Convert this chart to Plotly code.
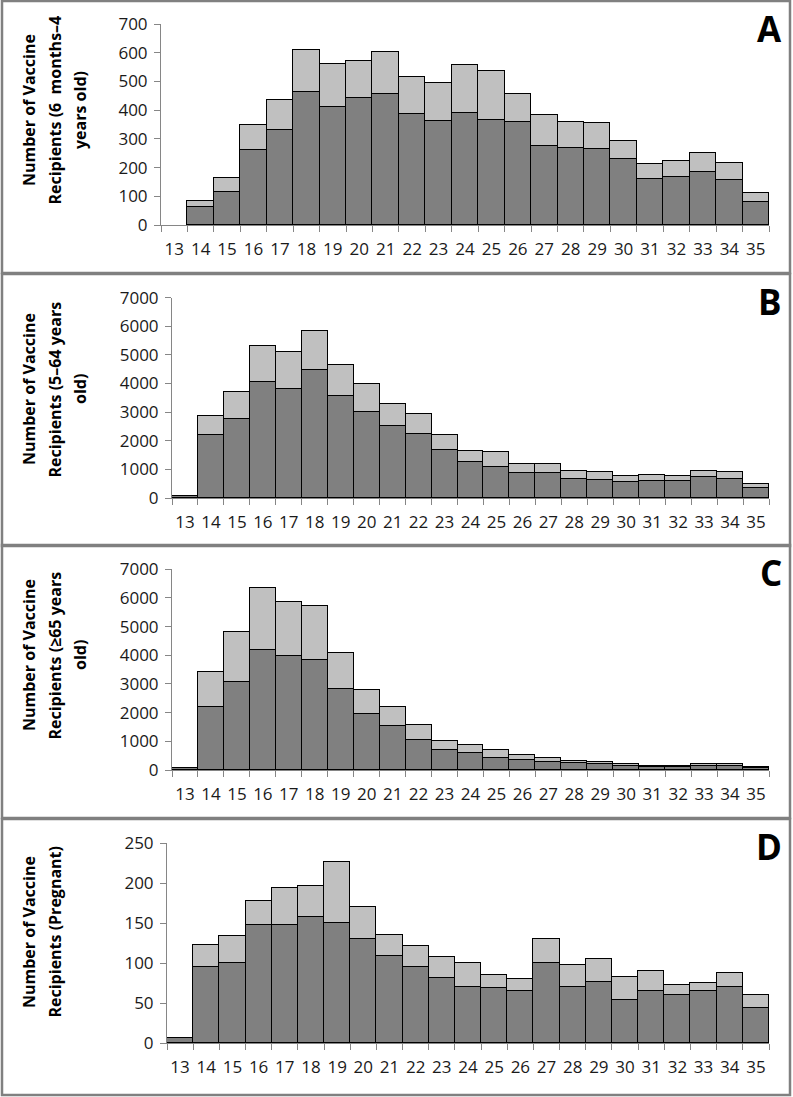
import plotly.graph_objects as go

weeks = [str(w) for w in range(13, 36)]

# Panel A: 6 months - 4 years
a_dark = [0, 63, 115, 261, 331, 462, 411, 442, 456, 387, 362, 390, 365, 357, 276, 268, 265, 230, 160, 167, 185, 157, 81]
a_total = [0, 85, 164, 348, 435, 610, 561, 571, 603, 516, 495, 557, 537, 456, 383, 359, 355, 293, 212, 223, 251, 216, 112]
# Panel B: 5-64 years
b_dark = [80, 2200, 2784, 4076, 3832, 4496, 3587, 3028, 2516, 2260, 1700, 1281, 1106, 897, 897, 687, 652, 559, 594, 594, 757, 687, 373]
b_total = [80, 2888, 3727, 5334, 5125, 5858, 4670, 4006, 3308, 2958, 2225, 1666, 1631, 1211, 1211, 955, 932, 780, 827, 792, 955, 932, 512]
# Panel C: >=65 years
c_dark = [70, 2186, 3058, 4174, 3965, 3814, 2814, 1953, 1523, 1035, 698, 581, 407, 337, 279, 233, 209, 140, 93, 93, 140, 140, 58]
c_total = [70, 3407, 4802, 6337, 5860, 5709, 4070, 2779, 2186, 1558, 1000, 860, 686, 512, 407, 314, 279, 209, 128, 128, 209, 209, 81]
# Panel D: Pregnant
d_dark = [6, 95, 100, 147, 147, 157, 150, 130, 109, 95, 81, 70, 69, 65, 100, 70, 76, 54, 65, 60, 65, 70, 44]
d_total = [6, 122, 134, 178, 194, 196, 226, 170, 135, 121, 108, 100, 85, 80, 130, 97, 105, 83, 90, 73, 75, 88, 60]

panels = [
    dict(letter="A", dark=a_dark, total=a_total, ymax=700, dtick=100,
         title=["Number of Vaccine", "Recipients (6  months–4", "years old)"]),
    dict(letter="B", dark=b_dark, total=b_total, ymax=7000, dtick=1000,
         title=["Number of Vaccine", "Recipients (5–64 years", "old)"]),
    dict(letter="C", dark=c_dark, total=c_total, ymax=7000, dtick=1000,
         title=["Number of Vaccine", "Recipients (≥65 years", "old)"]),
    dict(letter="D", dark=d_dark, total=d_total, ymax=250, dtick=50,
         title=["Number of Vaccine", "Recipients (Pregnant)"]),
]

W, H = 793, 1097
geo = [
    dict(x0=161, x1=769, yt=24, yb=225, tc=110, b0=1, b1=273),
    dict(x0=172, x1=769, yt=297.7, yb=498, tc=389, b0=274, b1=546),
    dict(x0=172, x1=769, yt=569.3, yb=770, tc=655, b0=545, b1=818),
    dict(x0=167, x1=769, yt=843, yb=1043, tc=932, b0=819, b1=1095),
]

FONT = "Open Sans, sans-serif"
fig = go.Figure()
layout = dict(
    width=W, height=H, margin=dict(l=0, r=0, t=0, b=0, autoexpand=False),
    paper_bgcolor="white", plot_bgcolor="white",
    barmode="stack", bargap=0, showlegend=False,
    font=dict(family=FONT, size=17, color="#1a1a1a"),
)
annotations = []
shapes = []

for i, (p, g) in enumerate(zip(panels, geo)):
    n = "" if i == 0 else str(i + 1)
    dark = [d if t else None for d, t in zip(p["dark"], p["total"])]
    light = [(t - d) if t else None for t, d in zip(p["total"], p["dark"])]
    fig.add_trace(go.Bar(x=weeks, y=dark, xaxis="x" + n, yaxis="y" + n,
                         marker=dict(color="#808080", line=dict(color="black", width=1)),
                         width=1))
    fig.add_trace(go.Bar(x=weeks, y=light, xaxis="x" + n, yaxis="y" + n,
                         marker=dict(color="#c0c0c0", line=dict(color="black", width=1)),
                         width=1))
    layout["xaxis" + n] = dict(
        domain=[g["x0"] / W, g["x1"] / W], anchor="y" + n, type="category",
        range=[-0.5, 22.5], tickson="boundaries", ticks="outside", ticklen=6,
        tickcolor="#868686", showline=True, linecolor="#868686", linewidth=1,
        showgrid=False, zeroline=False, tickangle=0, ticklabelstandoff=9,
        automargin=False,
        tickfont=dict(family=FONT, size=17, color="#1a1a1a"), fixedrange=True)
    layout["yaxis" + n] = dict(
        domain=[1 - g["yb"] / H, 1 - g["yt"] / H], anchor="x" + n,
        range=[0, p["ymax"]], dtick=p["dtick"], tick0=0, ticks="outside", ticklen=6,
        tickcolor="#868686", showline=True, linecolor="#868686", linewidth=1,
        showgrid=False, zeroline=False, ticklabelstandoff=3, automargin=False,
        tickfont=dict(family=FONT, size=17, color="#1a1a1a"), fixedrange=True)
    for j, line in enumerate(p["title"]):
        annotations.append(dict(
            text=line, xref="paper", yref="paper",
            x=(29 + 25.5 * j) / W, y=1 - g["tc"] / H, textangle=-90,
            xanchor="center", yanchor="middle", showarrow=False,
            font=dict(family=FONT, size=16, color="black", weight="bold")))
    annotations.append(dict(
        text="<b>" + p["letter"] + "</b>", xref="paper", yref="paper",
        x=784 / W, y=1 - (g["b0"] + 27) / H, xanchor="right", yanchor="middle",
        showarrow=False, font=dict(family=FONT, size=35, color="black")))
    shapes.append(dict(type="rect", xref="paper", yref="paper",
                       x0=2 / W, x1=790 / W, y0=1 - g["b1"] / H, y1=1 - g["b0"] / H,
                       line=dict(color="#808080", width=2.5), fillcolor="rgba(0,0,0,0)"))

layout["annotations"] = annotations
layout["shapes"] = shapes
fig.update_layout(**layout)
fig.write_html("out.html", config={"displayModeBar": False},
               post_script="document.body.style.margin='0px';document.documentElement.style.margin='0px';")
